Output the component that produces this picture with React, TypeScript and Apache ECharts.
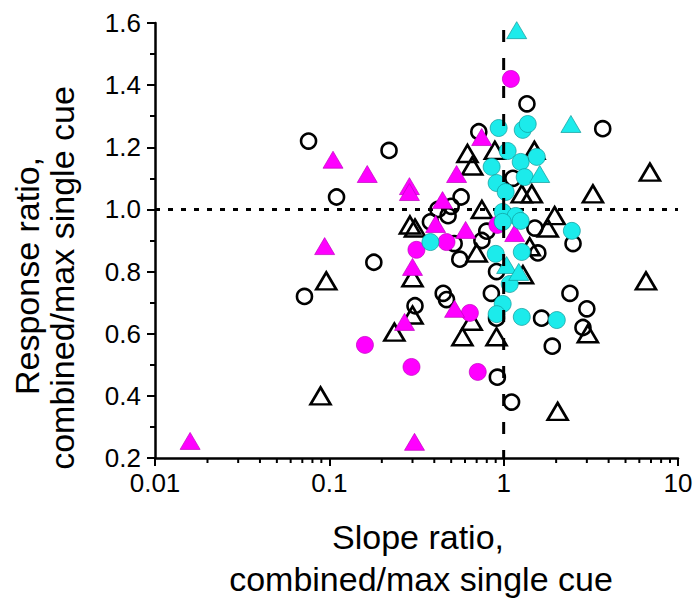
import React, { useEffect, useRef } from "react";
import * as echarts from "echarts";

// ---- data (x: slope ratio, y: response ratio) ----
const openCircles: [number, number][] = [
  [0.076, 1.22], [0.22, 1.19], [0.11, 1.04], [0.18, 0.83], [0.072, 0.72], [0.31, 0.69],
  [1.36, 1.34], [3.7, 1.26], [0.72, 1.25], [1.13, 1.1], [0.57, 1.04], [0.5, 1.01],
  [0.42, 1.0], [0.48, 0.98], [0.38, 0.96], [0.8, 0.93], [0.75, 0.9], [0.52, 0.89],
  [0.56, 0.84], [1.57, 0.86], [1.51, 0.94], [2.5, 0.89], [0.91, 0.8], [0.85, 0.73],
  [0.45, 0.73], [0.47, 0.71], [1.65, 0.65], [0.91, 0.65], [2.4, 0.73], [3.0, 0.68],
  [2.85, 0.62], [1.9, 0.56], [0.92, 0.46], [1.11, 0.38],
];
const openTriangles: [number, number][] = [
  [0.089, 0.4], [0.096, 0.77], [0.29, 0.95], [0.31, 0.94], [0.3, 0.78], [0.3, 0.66],
  [0.236, 0.605], [0.58, 0.59], [0.91, 0.59], [0.655, 0.64], [0.7, 0.86], [1.29, 0.79],
  [2.04, 0.35], [6.55, 0.77], [3.04, 0.6], [6.9, 1.12], [3.25, 1.05], [1.27, 1.05],
  [1.45, 1.05], [0.62, 1.18], [0.66, 1.14], [0.89, 1.19], [1.5, 1.19], [0.75, 1.0],
  [1.96, 0.98], [1.79, 0.94], [1.41, 0.88],
];
const magentaCircles: [number, number][] = [
  [1.1, 1.42], [0.92, 0.95], [0.47, 0.895], [0.316, 0.87], [0.64, 0.667], [0.16, 0.564],
  [0.296, 0.493], [0.71, 0.477],
];
const magentaTriangles: [number, number][] = [
  [0.105, 1.16], [0.165, 1.114], [0.288, 1.075], [0.288, 1.056], [0.094, 0.882], [0.3, 0.815],
  [0.27, 0.638], [0.523, 0.68], [0.0159, 0.255], [0.308, 0.252], [0.748, 1.233], [0.537, 1.114],
  [0.446, 1.03], [0.407, 0.953], [0.605, 0.934], [1.157, 0.924],
];
const cyanCircles: [number, number][] = [
  [0.936, 1.262], [1.286, 1.256], [1.374, 1.275], [1.054, 1.188], [1.252, 1.153], [1.548, 1.169],
  [0.853, 1.137], [1.32, 1.104], [0.911, 1.085], [1.027, 1.056], [0.987, 0.992], [1.172, 0.979],
  [1.252, 0.963], [0.987, 0.96], [2.46, 0.931], [0.38, 0.895], [0.9, 0.857], [1.27, 0.863],
  [1.083, 0.76], [0.987, 0.696], [0.911, 0.663], [1.27, 0.654], [2.017, 0.644],
];
const cyanTriangles: [number, number][] = [
  [1.188, 1.577], [2.43, 1.275], [1.61, 1.114], [1.04, 0.821], [1.22, 0.799],
];
const xTickLabels = ["0.01", "0.1", "1", "10"];
const xMinorTicks = [
  0.02, 0.03, 0.04, 0.05, 0.06, 0.07, 0.08, 0.09,
  0.2, 0.3, 0.4, 0.5, 0.6, 0.7, 0.8, 0.9,
  2, 3, 4, 5, 6, 7, 8, 9,
];
const verticalRef: [number, number][] = [[1, 0.2], [1, 1.6]];
const horizontalRef: [number, number][] = [[0.01, 1], [10, 1]];

const FONT = "'Liberation Sans', Arial, Helvetica, sans-serif";
const MAGENTA = "#FF00FF";
const CYAN = "#1CEBEB";

export default function App() {
  const ref = useRef<HTMLDivElement>(null);
  useEffect(() => {
    if (!ref.current) return;
    const chart = echarts.init(ref.current, undefined, { renderer: "svg" });
    const openStyle = { color: "rgba(0,0,0,0)", borderColor: "#000", borderWidth: 2.6, opacity: 1 };
    chart.setOption({
      animation: false,
      backgroundColor: "#fff",
      grid: { left: 155, right: 18, top: 23, bottom: 141, containLabel: false },
      xAxis: {
        type: "log",
        logBase: 10,
        min: 0.01,
        max: 10,
        axisLine: { show: true, onZero: false, lineStyle: { color: "#000", width: 2.5 } },
        axisTick: { show: true, inside: false, length: 8, lineStyle: { color: "#000", width: 2 } },
        minorTick: { show: false },
        splitLine: { show: false },
        axisLabel: {
          color: "#000",
          fontFamily: FONT,
          fontSize: 26,
          margin: 12,
          formatter: (_v: number, i: number) => xTickLabels[i] ?? "",
        },
      },
      yAxis: {
        type: "value",
        min: 0.2,
        max: 1.6,
        interval: 0.2,
        axisLine: { show: true, onZero: false, lineStyle: { color: "#000", width: 2.5 } },
        axisTick: { show: true, inside: false, length: 8, lineStyle: { color: "#000", width: 2 } },
        minorTick: { show: true, splitNumber: 2, length: 5, lineStyle: { color: "#000", width: 2 } },
        splitLine: { show: false },
        axisLabel: {
          color: "#000",
          fontFamily: FONT,
          fontSize: 26,
          margin: 14,
          formatter: (v: number) => v.toFixed(1),
        },
      },
      graphic: [
        {
          type: "text", x: 27, y: 276, rotation: Math.PI / 2,
          style: { text: "Response ratio,", font: `34px ${FONT}`, fill: "#000", textAlign: "center", textVerticalAlign: "middle" },
        },
        {
          type: "text", x: 62, y: 278, rotation: Math.PI / 2,
          style: { text: "combined/max single cue", font: `34px ${FONT}`, fill: "#000", textAlign: "center", textVerticalAlign: "middle" },
        },
        {
          type: "text", x: 418, y: 537,
          style: { text: "Slope ratio,", font: `34px ${FONT}`, fill: "#000", textAlign: "center", textVerticalAlign: "middle" },
        },
        {
          type: "text", x: 421, y: 579,
          style: { text: "combined/max single cue", font: `34px ${FONT}`, fill: "#000", textAlign: "center", textVerticalAlign: "middle" },
        },
      ],
      series: [
        {
          type: "custom",
          clip: false,
          silent: true,
          z: 1,
          data: xMinorTicks.map((v) => [v, 0.2]),
          renderItem: (_p: any, api: any) => {
            const pt = api.coord([api.value(0), api.value(1)]);
            return {
              type: "line",
              shape: { x1: pt[0], y1: pt[1], x2: pt[0], y2: pt[1] + 5 },
              style: { stroke: "#000", lineWidth: 2 },
            };
          },
        },
        {
          type: "line",
          data: horizontalRef,
          symbol: "none",
          silent: true,
          z: 2,
          lineStyle: { color: "#000", width: 3, type: [5, 8] },
        },
        {
          type: "scatter", data: openCircles, symbol: "circle", symbolSize: 15,
          itemStyle: openStyle, z: 3,
        },
        {
          type: "scatter", data: openTriangles, symbol: "triangle", symbolSize: [20, 17],
          itemStyle: openStyle, z: 3,
        },
        {
          type: "scatter", data: magentaCircles, symbol: "circle", symbolSize: 17,
          itemStyle: { color: MAGENTA, borderColor: "#c000c0", borderWidth: 0.7, opacity: 1 }, z: 4,
        },
        {
          type: "scatter", data: magentaTriangles, symbol: "triangle", symbolSize: [20, 17],
          itemStyle: { color: MAGENTA, borderColor: "#c000c0", borderWidth: 0.7, opacity: 1 }, z: 4,
        },
        {
          type: "scatter", data: cyanCircles, symbol: "circle", symbolSize: 17,
          itemStyle: { color: CYAN, borderColor: "#109a9a", borderWidth: 0.7, opacity: 1 }, z: 5,
        },
        {
          type: "scatter", data: cyanTriangles, symbol: "triangle", symbolSize: [20, 17],
          itemStyle: { color: CYAN, borderColor: "#109a9a", borderWidth: 0.7, opacity: 1 }, z: 5,
        },
        {
          type: "line",
          data: verticalRef,
          symbol: "none",
          silent: true,
          z: 6,
          lineStyle: { color: "#000", width: 3, type: [12, 16], dashOffset: 4 },
        },
      ],
    });
    return () => chart.dispose();
  }, []);
  return (
    <div
      ref={ref}
      style={{ position: "fixed", left: 0, top: 0, width: 696, height: 599, background: "#fff" }}
    />
  );
}
